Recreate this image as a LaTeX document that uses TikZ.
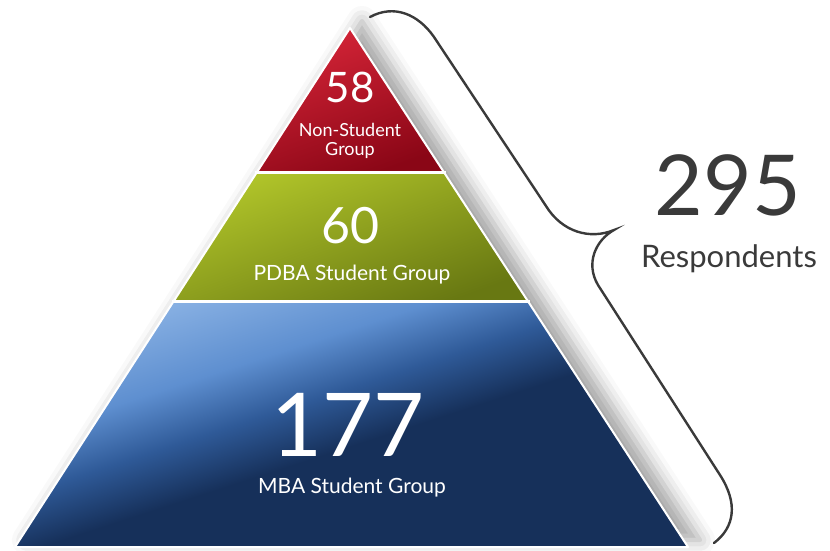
\documentclass[tikz,border=0pt]{standalone}
\usepackage{fontspec}
\setmainfont{Lato}
\usetikzlibrary{calc, shadows.blur}
\definecolor{redTop}{HTML}{D62538}
\definecolor{redBot}{HTML}{8A0616}
\definecolor{greenTop}{HTML}{B2C62A}
\definecolor{greenBot}{HTML}{687812}
\definecolor{blueTop}{HTML}{8AB2E4}
\definecolor{blueLight}{HTML}{5E8FD0}
\definecolor{blueMid}{HTML}{2F5A98}
\definecolor{blueBot}{HTML}{16305A}
\definecolor{braceGray}{HTML}{3A3A3A}
\pgfdeclareverticalshading{blueGloss}{100bp}{color(0bp)=(blueBot); color(25bp)=(blueBot); color(47bp)=(blueBot); color(55bp)=(blueMid); color(63bp)=(blueLight); color(75bp)=(blueTop); color(100bp)=(blueTop)}
\tikzset{
    layerRed/.style={top color=redTop, bottom color=redBot, shading angle=20},
    layerGreen/.style={top color=greenTop, bottom color=greenBot, shading angle=20},
    layerBlue/.style={shading=blueGloss, shading angle=18},
    gapLine/.style={white, line width=3pt, shorten <=-2pt, shorten >=-2pt},
    rimLine/.style={white, line width=2pt, line join=round},
    braceLine/.style={braceGray, line width=2.4pt, line cap=round},
    paperShadow/.style={fill=white, blur shadow={shadow xshift=12pt, shadow yshift=7pt, shadow blur radius=15pt, shadow opacity=35}},
    numText/.style={text=white, anchor=base, inner sep=0pt},
    groupText/.style={text=white, anchor=base, inner sep=0pt, font=\fontsize{21}{24}\selectfont},
    totalText/.style={text=braceGray, anchor=base, inner sep=0pt},
}
\newcommand{\drawRim}[3]{
    % 外框白边
    \draw[rimLine] (#1) -- (#2) -- (#3) -- cycle;
}

\begin{document}
\begin{tikzpicture}[x=1pt, y=-1pt]
        \useasboundingbox (0,0) rectangle (830,550);

        \coordinate (apex) at (350,28);
        \coordinate (bl) at (15,547);
        \coordinate (br) at (688,547);
        \coordinate (l1) at ($(apex)!0.2775!(bl)$);
        \coordinate (r1) at ($(apex)!0.2775!(br)$);
        \coordinate (l2) at ($(apex)!0.526!(bl)$);
        \coordinate (r2) at ($(apex)!0.526!(br)$);

        \path[paperShadow] (apex) -- (br) -- (bl) -- cycle;

        \shade[layerRed] (apex) -- (r1) -- (l1) -- cycle;
        \shade[layerGreen] (l1) -- (r1) -- (r2) -- (l2) -- cycle;
        \shade[layerBlue] (l2) -- (r2) -- (br) -- (bl) -- cycle;
        \draw[gapLine] (l1) -- (r1);
        \draw[gapLine] (l2) -- (r2);
        \drawRim{apex}{br}{bl}

        \node[numText, font=\fontsize{42}{42}\selectfont] (n58) at (350,102) {58};
        \node[text=white, align=center, inner sep=0pt, font=\fontsize{18}{19}\selectfont] (g58) at (350,141) {Non-Student\\Group};
        \node[numText, font=\fontsize{50}{50}\selectfont] (n60) at (350,243) {60};
        \node[groupText] (g60) at (352,280) {PDBA Student Group};
        \node[numText, font=\fontsize{88}{88}\selectfont] (n177) at (348,456) {177};
        \node[groupText] (g177) at (352,493) {MBA Student Group};

        \draw[braceLine] (370,17) .. controls (394,4) and (418,14) .. (434,37)
            -- (546,206) .. controls (562,232) and (590,240) .. (614,230)
            .. controls (596,240) and (585,263) .. (598,285)
            -- (720,475) .. controls (738,503) and (735,527) .. (714,543);

        \node[totalText, font=\fontsize{84}{84}\selectfont] (total) at (728,215) {295};
        \node[totalText, font=\fontsize{31}{31}\selectfont] (resp) at (729,267) {Respondents};
    \end{tikzpicture}
\end{document}
